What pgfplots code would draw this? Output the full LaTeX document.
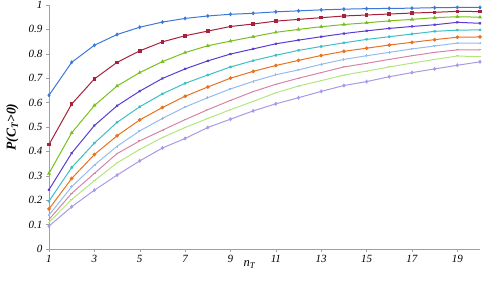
\documentclass[border=0pt]{standalone}
\usepackage{pgfplots}
\pgfplotsset{compat=1.18}
\usepackage{fontspec}
\setmainfont{Liberation Serif}
\definecolor{c1}{HTML}{3C78D8}
\definecolor{c2}{HTML}{A8213A}
\definecolor{c3}{HTML}{78C01E}
\definecolor{c4}{HTML}{5A3CD2}
\definecolor{c5}{HTML}{40BEC4}
\definecolor{c6}{HTML}{E8721E}
\definecolor{c7}{HTML}{94BCEE}
\definecolor{c8}{HTML}{D684A8}
\definecolor{c9}{HTML}{B4E680}
\definecolor{c10}{HTML}{A89AE6}
\definecolor{axgray}{HTML}{A0A0A0}
\begin{document}
\begin{tikzpicture}
\begin{axis}[
  name=ax,
  scale only axis,
  width=431pt, height=244pt,
  xmin=1, xmax=20, ymin=0, ymax=1,
  axis x line=bottom, axis y line=left,
  axis line style={axgray, -},
  xtick={1,3,...,19},
  ytick={0,0.1,...,1},
  tick align=outside,
  major tick length=3pt,
  tick style={axgray},
  /pgf/number format/assume math mode=true,
  /pgf/number format/fixed, /pgf/number format/precision=1,
  ticklabel style={font=\itshape\fontsize{11}{12}\selectfont},
  xlabel={\itshape n\textsubscript{T}},
  xlabel style={font=\fontsize{12.5}{13}\selectfont, at={(axis description cs:0.465,0)}, anchor=north, yshift=-8pt},
  ylabel={\bfseries\itshape P(C\textsubscript{T}>0)},
  ylabel style={font=\fontsize{13.5}{14}\selectfont, at={(axis description cs:-0.085,0.5)}, anchor=center},
  every axis plot/.append style={line width=1pt, mark size=1.3pt},
  clip=false,
]
\addplot[c1, mark=diamond*] coordinates {(1,0.63)(2,0.765)(3,0.835)(4,0.879)(5,0.909)(6,0.93)(7,0.945)(8,0.955)(9,0.962)(10,0.966)(11,0.972)(12,0.976)(13,0.98)(14,0.983)(15,0.985)(16,0.986)(17,0.987)(18,0.989)(19,0.99)(20,0.99)};
\addplot[c2, mark=square*] coordinates {(1,0.428)(2,0.594)(3,0.697)(4,0.765)(5,0.812)(6,0.849)(7,0.874)(8,0.893)(9,0.912)(10,0.922)(11,0.934)(12,0.941)(13,0.948)(14,0.955)(15,0.959)(16,0.963)(17,0.967)(18,0.970)(19,0.974)(20,0.973)};
\addplot[c3, mark=triangle*] coordinates {(1,0.31)(2,0.476)(3,0.588)(4,0.668)(5,0.723)(6,0.768)(7,0.805)(8,0.833)(9,0.852)(10,0.87)(11,0.888)(12,0.90)(13,0.911)(14,0.92)(15,0.927)(16,0.935)(17,0.941)(18,0.948)(19,0.952)(20,0.95)};
\addplot[c4, mark=x] coordinates {(1,0.243)(2,0.393)(3,0.506)(4,0.587)(5,0.647)(6,0.699)(7,0.738)(8,0.771)(9,0.799)(10,0.82)(11,0.841)(12,0.856)(13,0.87)(14,0.883)(15,0.894)(16,0.904)(17,0.912)(18,0.919)(19,0.929)(20,0.925)};
\addplot[c5, mark=asterisk] coordinates {(1,0.196)(2,0.334)(3,0.434)(4,0.519)(5,0.583)(6,0.636)(7,0.679)(8,0.713)(9,0.746)(10,0.772)(11,0.794)(12,0.814)(13,0.83)(14,0.845)(15,0.859)(16,0.87)(17,0.881)(18,0.892)(19,0.897)(20,0.898)};
\addplot[c6, mark=*] coordinates {(1,0.164)(2,0.289)(3,0.387)(4,0.464)(5,0.529)(6,0.58)(7,0.626)(8,0.664)(9,0.70)(10,0.728)(11,0.752)(12,0.773)(13,0.793)(14,0.81)(15,0.823)(16,0.836)(17,0.847)(18,0.858)(19,0.868)(20,0.869)};
\addplot[c7, mark=+] coordinates {(1,0.139)(2,0.255)(3,0.344)(4,0.421)(5,0.484)(6,0.535)(7,0.582)(8,0.62)(9,0.656)(10,0.687)(11,0.714)(12,0.734)(13,0.757)(14,0.777)(15,0.792)(16,0.806)(17,0.82)(18,0.832)(19,0.844)(20,0.844)};
\addplot[c8, mark=-] coordinates {(1,0.121)(2,0.228)(3,0.31)(4,0.391)(5,0.443)(6,0.487)(7,0.53)(8,0.571)(9,0.609)(10,0.645)(11,0.675)(12,0.70)(13,0.723)(14,0.746)(15,0.761)(16,0.777)(17,0.792)(18,0.806)(19,0.816)(20,0.816)};
\addplot[c9, mark=-] coordinates {(1,0.109)(2,0.203)(3,0.28)(4,0.353)(5,0.408)(6,0.457)(7,0.498)(8,0.535)(9,0.571)(10,0.605)(11,0.64)(12,0.668)(13,0.69)(14,0.713)(15,0.729)(16,0.746)(17,0.762)(18,0.777)(19,0.791)(20,0.788)};
\addplot[c10, mark=diamond*] coordinates {(1,0.094)(2,0.173)(3,0.241)(4,0.303)(5,0.361)(6,0.414)(7,0.453)(8,0.498)(9,0.532)(10,0.566)(11,0.595)(12,0.62)(13,0.646)(14,0.67)(15,0.686)(16,0.706)(17,0.723)(18,0.738)(19,0.753)(20,0.767)};
\end{axis}
\pgfresetboundingbox
\path ([shift={(-49pt,-32pt)}]ax.south west) rectangle ([shift={(10pt,5pt)}]ax.north east);
\end{tikzpicture}
\end{document}
